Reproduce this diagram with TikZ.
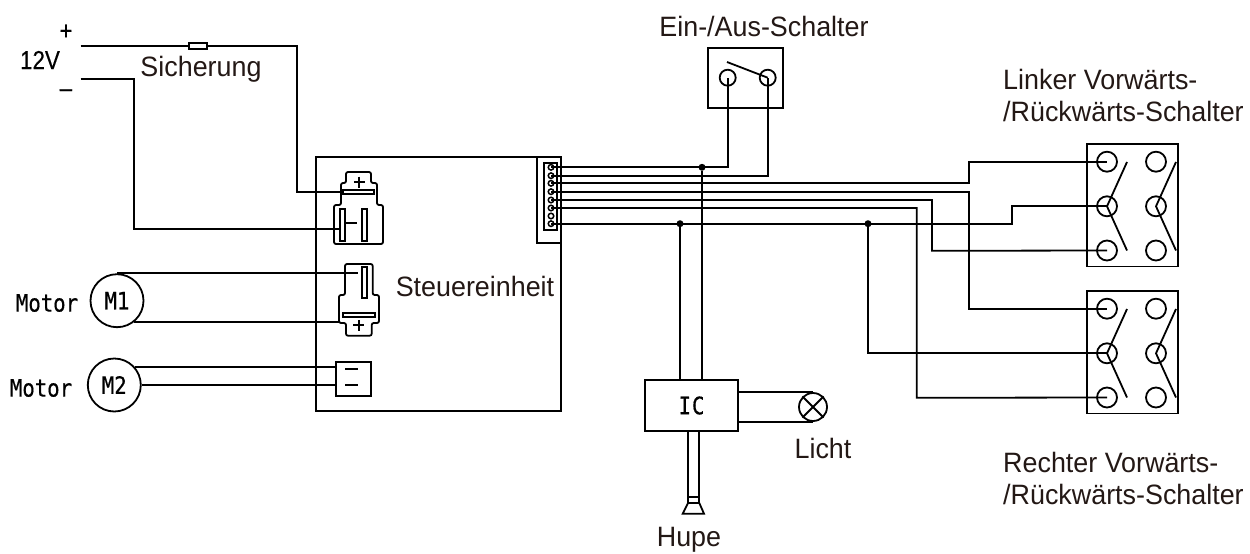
\documentclass[tikz,border=0pt]{standalone}
\usepackage{fontspec}
\setmainfont[FakeStretch=0.96]{Liberation Sans}
\newfontfamily\numfont[FakeStretch=0.86,FakeBold=0.3]{Liberation Sans}
\newfontfamily\motorfont[FakeStretch=0.86,FakeBold=0.6]{DejaVu Sans Mono}
\definecolor{txtcol}{HTML}{231815}
\tikzset{
	wire/.style={black,line width=1.8pt},
	contact/.style={circle,draw,line width=1.8pt,minimum size=20pt,inner sep=0pt},
	pin/.style={circle,draw,line width=1.5pt,minimum size=5.5pt,inner sep=0pt},
	dot/.style={circle,fill,minimum size=7pt,inner sep=0pt},
	motor/.style={circle,draw,line width=1.8pt,minimum size=53pt,inner sep=0pt,font=\motorfont\fontsize{24}{26}\selectfont},
	lbl/.style={text=txtcol,inner sep=0pt,font=\fontsize{28}{32}\selectfont},
	num/.style={text=black,inner sep=0pt,font=\numfont\fontsize{26}{28}\selectfont},
	mono/.style={text=black,inner sep=0pt,font=\motorfont\fontsize{24}{26}\selectfont}
}
\begin{document}
\begin{tikzpicture}[x=1pt,y=-1pt,line join=miter]
	\useasboundingbox (0,0) rectangle (1250,554);
	% control unit
	\draw[wire](316,157)rectangle(561,411);
	\draw[wire](537,157)--(537,243)--(561,243);
	\draw[wire](544,163)rectangle(557,230);
	\foreach \i/\y in {1/167.3,2/175.7,3/183.3,4/191.7,5/200,6/208,7/216,8/223.7}
		\node[pin](p\i) at (551,\y){};
	\node[lbl](steuer) at (475,286){Steuereinheit};
	% battery side
	\node[num](volt) at (40,60){12V};
	\node[num](plus) at (66,32){+};
	\node[num](minus) at (66,93){–};
	\node[lbl](fuselbl) at (201,69){Sicherung};
	\coordinate (batp) at (80.7,46);
	\coordinate (batm) at (80.7,79);
	\node[draw,wire,fill=white,minimum width=18pt,minimum height=6pt,inner sep=0pt](fuse) at (198,46){};
	\draw[wire](batp)--(fuse);
	\coordinate (powp) at (343,192);
	\coordinate (powm) at (340,229);
	\draw[wire](fuse)-|(296.7,192)--(powp);
	\draw[wire](batm)-|(134.3,229)--(powm);
	% power connector
	\draw[wire,rounded corners=2pt](346,183)--(346,172)--(371,172)--(371,183)--(377,183)--(377,205)--(383,205)--(383,244)--(334,244)--(334,205)--(341,205)--(341,183)--cycle;
	\draw[wire](343,190)rectangle(374,194);
	\draw[wire](359.3,176.5)--(359.3,187.5)(353.8,182)--(364.8,182);
	\draw[wire](340,209.3)rectangle(344.7,241.3);
	\draw[wire](362,209.3)rectangle(366.7,241.3);
	\draw[wire](344.7,222.7)--(357,222.7);
	% motor connector
	\draw[wire,rounded corners=2pt](345,295)--(345,264)--(372.7,264)--(372.7,295)--(379,295)--(379,323)--(371.7,323)--(371.7,335.7)--(346,335.7)--(346,323)--(339,323)--(339,295)--cycle;
	\draw[wire](361.7,267.3)rectangle(366.7,298);
	\draw[wire](343.3,313.3)rectangle(375,317.3);
	\draw[wire](358.7,319.8)--(358.7,330.8)(353.2,325.3)--(364.2,325.3);
	% minus box
	\draw[wire](336,362)rectangle(370.7,395.7);
	\draw[wire](345,369.3)--(357.7,369.3)(345,385)--(357.7,385);
	% motors
	\node[motor](mA) at (117,300.7){M1};
	\node[motor](mB) at (114.3,385){M2};
	\node[mono](mAlbl) at (47,303){Motor};
	\node[mono](mBlbl) at (41,388){Motor};
	\coordinate (mAa) at (358,0);
	\coordinate (mAb) at (339,0);
	\coordinate (mBa) at (336,0);
	\draw[wire](mA.north)--(mA.north -| mAa);
	\draw[wire](mA.-52)--(mA.-52 -| mAb);
	\draw[wire](mB.40)--(mB.40 -| mBa);
	\draw[wire](mB.east)--(mB.east -| mBa);
	% on/off switch
	\node[lbl](onofflbl) at (764,26){Ein-/Aus-Schalter};
	\draw[wire](708,48)rectangle(782.7,108);
	\node[contact,minimum size=16pt](sa) at (727.7,77.7){};
	\node[contact,minimum size=16pt](sb) at (767.7,77.7){};
	\draw[wire](727,62)--(sb.center);
	\draw[wire](p1.center)-|(sa.center);
	\draw[wire](p2.center)-|(sb.center);
	% direction switches
	\foreach \n/\y in {L/144,R/291}{
		\draw[wire](1087,\y)rectangle(1178,\y+122.5);
		\foreach \a/\b/\x/\d in {a/b/1107/0,c/d/1156/49}{
			\node[contact](\n\a) at (\x,\y+17.7){};
			\node[contact](\n\b) at (\x,\y+62.3){};
			\draw[wire](\x+20,\y+18)--(\x,\y+62.3)--(\x+20,\y+106.5);
		}
		\node[contact](\n e) at (1107,\y+106.5){};
		\node[contact](\n f) at (1156,\y+106.5){};
	}
	\node[lbl,anchor=west](leftA) at (1003,79){Linker Vorwärts-};
	\node[lbl,anchor=west](leftB) at (1003,111){/Rückwärts-Schalter};
	\node[lbl,anchor=west](rightA) at (1003,462){Rechter Vorwärts-};
	\node[lbl,anchor=west](rightB) at (1003,494){/Rückwärts-Schalter};
	% wires to the switches
	\draw[wire](p3.center)-|(969,161.7)--(La.center);
	\draw[wire](p4.center)-|(969,308.7)--(Ra.center);
	\draw[wire](p5.center)-|(932,250.8)--(Le.center);
	\draw[wire](p6.center)-|(916.7,397.8)--(Re.center);
	\draw[wire](p8.center)-|(1011.7,206.3)--(Lb.center);
	\node[dot](jc) at (868,223.7){};
	\draw[wire](jc)|-(Rb.center);
	% IC, lamp, horn
	\node[draw,wire,text=black,minimum width=93pt,minimum height=51pt,inner sep=0pt,font=\motorfont\fontsize{24}{26}\selectfont](ic) at (691.5,405.5){I\kern1ptC};
	\node[dot](ja) at (702,167.3){};
	\node[dot](jb) at (680,223.7){};
	\draw[wire](ja)--(ja |- ic.north);
	\draw[wire](jb)--(jb |- ic.north);
	\node[circle,draw,wire,minimum size=28pt,inner sep=0pt](lamp) at (813,407){};
	\draw[wire](lamp.45)--(lamp.225)(lamp.135)--(lamp.-45);
	\draw[wire](lamp.north)--(lamp.north -| ic.east);
	\draw[wire](lamp.south)--(lamp.south -| ic.east);
	\node[lbl](lamplbl) at (823,448){Licht};
	\coordinate (hornA) at (688,497);
	\coordinate (hornB) at (699.3,497);
	\draw[wire](hornA)--(hornA |- ic.south);
	\draw[wire](hornB)--(hornB |- ic.south);
	\draw[wire](hornA)--(hornB)--(699.3,503)--(688,503)--cycle;
	\draw[wire](688,503)--(682.7,513.7)--(704,513.7)--(699.3,503);
	\node[lbl](hornlbl) at (689,540){Hupe};
\end{tikzpicture}
\end{document}
